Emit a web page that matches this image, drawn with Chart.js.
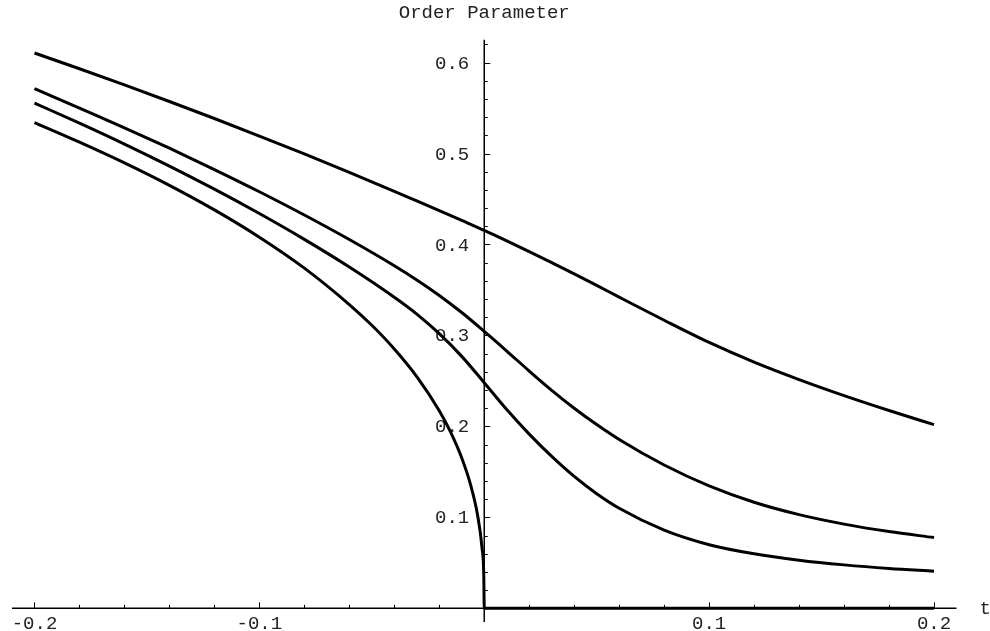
<!DOCTYPE html>
<html>
<head>
<meta charset="utf-8">
<title>Order Parameter</title>
<script src="https://cdn.jsdelivr.net/npm/chart.js@4.4.1/dist/chart.umd.min.js"></script>
<style>
    html, body { margin: 0; padding: 0; background: #fff; }
    #chart { display: block; }
</style>
</head>
<body>
<canvas id="chart" width="990" height="631"></canvas>
<script>
// t values shared by the three upper curves (denser around t = 0)
const tValues = [-0.2, -0.18, -0.16, -0.14, -0.12, -0.1, -0.08, -0.06, -0.04, -0.03, -0.02, -0.01, 0,
                 0.01, 0.02, 0.03, 0.04, 0.05, 0.06, 0.08, 0.1, 0.12, 0.14, 0.16, 0.18, 0.2];

const curveA = [0.6105, 0.5932, 0.5755, 0.5572, 0.5385, 0.5192, 0.4995, 0.4792, 0.4585, 0.4479, 0.4372, 0.4264, 0.4155,
                0.404, 0.3922, 0.3801, 0.3677, 0.355, 0.3421, 0.3167, 0.2923, 0.2707, 0.2515, 0.2339, 0.2175, 0.2019];
const curveB = [0.5714, 0.5498, 0.5282, 0.5058, 0.4824, 0.458, 0.4324, 0.4054, 0.3766, 0.361, 0.344, 0.3252, 0.3044,
                0.2829, 0.2609, 0.2397, 0.22, 0.202, 0.1856, 0.1576, 0.1346, 0.1166, 0.103, 0.0926, 0.0844, 0.0778];
const curveC = [0.5554, 0.5334, 0.5104, 0.4862, 0.4608, 0.434, 0.4056, 0.3752, 0.342, 0.3235, 0.302, 0.277, 0.248,
                0.2185, 0.1915, 0.167, 0.145, 0.126, 0.11, 0.086, 0.07, 0.06, 0.053, 0.0478, 0.0438, 0.0408];

// zero-field curve, much denser near t = 0, flat on the axis for t > 0
const tD = [-0.2, -0.18, -0.16, -0.14, -0.12, -0.1, -0.08, -0.06, -0.05, -0.04, -0.03, -0.02,
            -0.015, -0.01, -0.006, -0.003, -0.001, -0.0002, 0, 0.2];
const curveD = [0.534, 0.5125, 0.4897, 0.465, 0.438, 0.408, 0.374, 0.334, 0.3112, 0.2852, 0.2548, 0.2172,
                0.1939, 0.1652, 0.1351, 0.1029, 0.0667, 0.0354, 0, 0];

// axis ticks
const xTicks = [-0.2, -0.1, 0.1, 0.2];
const xTickLabels = ['-0.2', '-0.1', '0.1', '0.2'];
const yTicks = [0.1, 0.2, 0.3, 0.4, 0.5, 0.6];
const yTickLabels = ['0.1', '0.2', '0.3', '0.4', '0.5', '0.6'];

const FONT = "'Liberation Mono', 'DejaVu Sans Mono', monospace";

function toPoints(xs, ys) {
    return xs.map((x, i) => ({ x: x, y: ys[i] }));
}

function lineSet(xs, ys) {
    return {
        data: toPoints(xs, ys),
        borderColor: '#000',
        borderWidth: 3,
        pointRadius: 0,
        fill: false,
        cubicInterpolationMode: 'monotone'
    };
}

// Mathematica style axes crossing at the origin
const crossAxes = {
    id: 'crossAxes',
    beforeDatasetsDraw(chart) {
        const ctx = chart.ctx;
        const area = chart.chartArea;
        const sx = chart.scales.x;
        const sy = chart.scales.y;
        const x0 = sx.getPixelForValue(0);
        const y0 = sy.getPixelForValue(0);

        ctx.save();
        ctx.strokeStyle = '#000';
        ctx.lineWidth = 1.5;
        ctx.beginPath();
        ctx.moveTo(area.left, y0);
        ctx.lineTo(area.right, y0);
        ctx.moveTo(x0, area.top);
        ctx.lineTo(x0, area.bottom);
        ctx.stroke();

        // minor ticks every 0.02, major every 0.1
        ctx.lineWidth = 1;
        ctx.beginPath();
        for (let i = -10; i <= 10; i++) {
            if (i === 0) continue;
            const px = Math.round(sx.getPixelForValue(i * 0.02)) + 0.5;
            const len = i % 5 === 0 ? 6 : 3.5;
            ctx.moveTo(px, y0);
            ctx.lineTo(px, y0 - len);
        }
        for (let i = 1; i <= 31; i++) {
            const py = Math.round(sy.getPixelForValue(i * 0.02)) + 0.5;
            const len = i % 5 === 0 ? 6 : 3.5;
            ctx.moveTo(x0, py);
            ctx.lineTo(x0 + len, py);
        }
        ctx.stroke();

        ctx.fillStyle = '#222';
        ctx.font = '19px ' + FONT;
        ctx.textBaseline = 'middle';
        ctx.textAlign = 'center';
        xTicks.forEach((v, i) => {
            ctx.fillText(xTickLabels[i], sx.getPixelForValue(v), y0 + 16);
        });
        ctx.textAlign = 'right';
        yTicks.forEach((v, i) => {
            ctx.fillText(yTickLabels[i], x0 - 15, sy.getPixelForValue(v) + 1);
        });
        ctx.textAlign = 'left';
        ctx.fillText('t', area.right + 23, y0 + 1);
        ctx.restore();
    }
};

const chart = new Chart(document.getElementById('chart'), {
    type: 'line',
    data: {
        datasets: [
            lineSet(tValues, curveA),
            lineSet(tValues, curveB),
            lineSet(tValues, curveC),
            lineSet(tD, curveD)
        ]
    },
    options: {
        responsive: false,
        animation: false,
        layout: {
            padding: { left: 12, right: 33.5, top: 0, bottom: 9 }
        },
        scales: {
            x: { type: 'linear', min: -0.21, max: 0.21, display: false },
            y: { type: 'linear', min: -0.015, max: 0.625, display: false }
        },
        plugins: {
            legend: { display: false },
            tooltip: { enabled: false },
            title: {
                display: true,
                text: 'Order Parameter',
                color: '#222',
                font: { family: FONT, size: 19, weight: 'normal' },
                padding: { top: 2, bottom: 15 }
            }
        }
    },
    plugins: [crossAxes]
});
</script>
</body>
</html>
